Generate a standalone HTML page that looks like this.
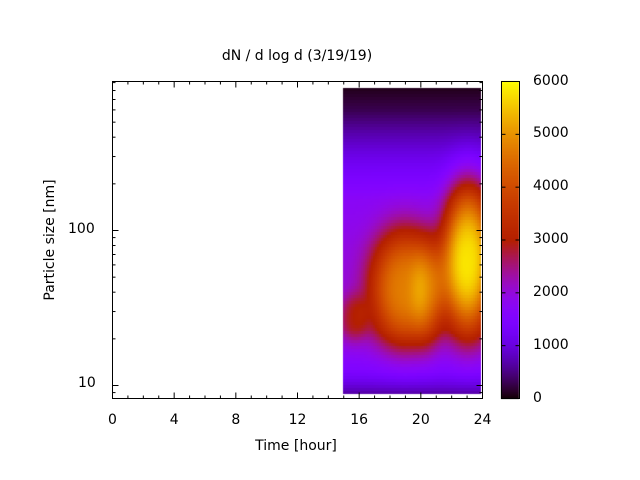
<!DOCTYPE html>
<html><head><meta charset="utf-8"><style>
html,body{margin:0;padding:0;background:#fff;}
#w{position:relative;width:640px;height:480px;overflow:hidden;font-family:"DejaVu Sans","Liberation Sans",sans-serif;font-size:14px;color:#000;}
canvas{position:absolute;left:0;top:0;}
.t{position:absolute;white-space:nowrap;}
</style></head><body><div id="w">
<canvas id="c" width="640" height="480"></canvas>
<svg width="640" height="480" style="position:absolute;left:0;top:0" id="s"></svg>
<div class="t" style="left:0;width:594px;text-align:center;top:48px">dN / d log d (3/19/19)</div>
<div class="t" style="left:0;width:592px;text-align:center;top:438px">Time [hour]</div>
<div class="t" style="left:50px;top:240px;transform:translate(-50%,-50%) rotate(-90deg)">Particle size [nm]</div>
<div class="t" style="left:68px;top:221px">100</div>
<div class="t" style="left:78px;top:375px">10</div>
<div id="xl"></div><div id="cl"></div>
</div>
<script>
function pal(x){x=Math.max(0,Math.min(1,x));var r=Math.sqrt(x),g=x*x*x,b=Math.sin(2*Math.PI*x);b=Math.max(0,b);return [r*255|0,g*255|0,b*255|0];}
var c=document.getElementById('c').getContext('2d');
var bp=[[88,100],[110,300],[130,650],[160,1150],[200,1750],[250,1950],[330,2100],[352,1800],[370,1500],[382,1100],[393,700]];
function base(y){for(var i=0;i<bp.length-1;i++){if(y<=bp[i+1][0]){var t=(y-bp[i][0])/(bp[i+1][0]-bp[i][0]);return bp[i][1]+t*(bp[i+1][1]-bp[i][1]);}}return 700;}
var blobs=[[405,287,36,60,2700],[468,258,26,75,3800],[428,292,16,55,800],[354,318,14,24,800]];
function v(x,y){var s=base(y);for(var i=0;i<blobs.length;i++){var b=blobs[i];var r2=Math.pow((x-b[0])/b[2],2)+Math.pow((y-b[1])/b[3],2);s+=b[4]*Math.exp(-Math.pow(r2,1.4));}return s;}
for(var x=343;x<481;x+=2){for(var y=88;y<393;y+=3){var p=pal(v(x+1,y+1.5)/6000);c.fillStyle='rgb('+p+')';c.fillRect(x,y,2,3);}}
for(var y=81;y<399;y++){var p=pal((399-y)/318);c.fillStyle='rgb('+p+')';c.fillRect(501,y,18,1);}
var s='';function L(a,b,cc,d){s+='<line x1="'+a+'" y1="'+b+'" x2="'+cc+'" y2="'+d+'" stroke="#000" stroke-width="1"/>';}
s+='<rect x="112.5" y="81.5" width="370" height="317" fill="none" stroke="#000"/>';
s+='<rect x="501.5" y="81.5" width="18" height="317" fill="none" stroke="#000"/>';
var xh='';
for(var h=0;h<=24;h++){var X=112.5+h*370/24;var len=h%4==0?6:3;L(X,398.5,X,398.5-len);L(X,81.5,X,81.5+len);
if(h%4==0)xh+='<div class="t" style="left:'+(X-20)+'px;width:40px;text-align:center;top:412px">'+h+'</div>';}
document.getElementById('xl').innerHTML=xh;
function yp(v){return 230.5-(Math.log10(v)-2)*155;}
var vals=[9,10,20,30,40,50,60,70,80,90,100,200,300,400,500,600,700,800,900];
vals.forEach(function(v){var Y=yp(v);if(Y<81||Y>399)return;var len=(v==10||v==100)?6:3;L(112.5,Y,112.5+len,Y);L(482.5,Y,482.5-len,Y);});
var ch='';
for(var k=0;k<=6;k++){var Y=398.5-k*317/6;if(k>0&&k<6){L(501.5,Y,505.5,Y);L(519.5,Y,515.5,Y);}ch+='<div class="t" style="left:533px;top:'+(Y-9)+'px">'+(k*1000)+'</div>';}
document.getElementById('cl').innerHTML=ch;
document.getElementById('s').innerHTML=s;
</script></body></html>
